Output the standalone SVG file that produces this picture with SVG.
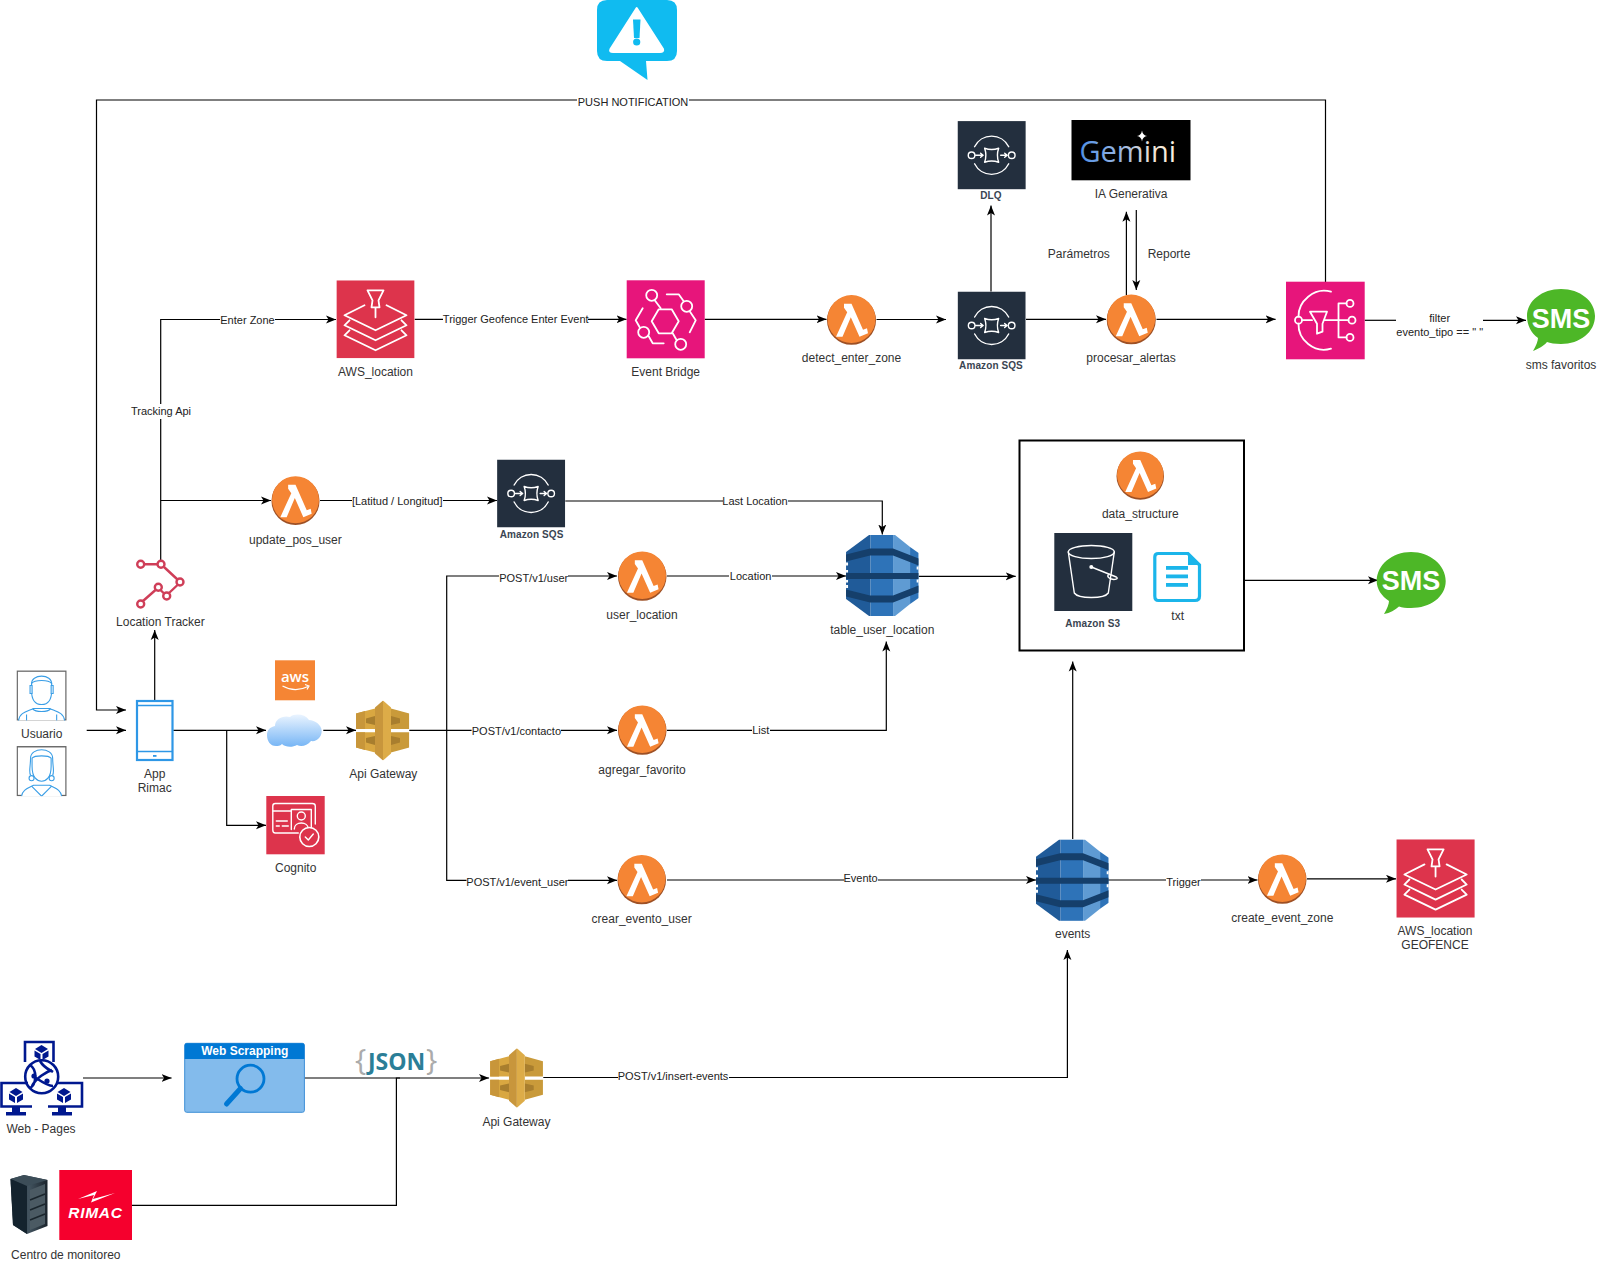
<svg xmlns="http://www.w3.org/2000/svg" width="1597" height="1270" viewBox="0 0 1597 1270">
<style>
text{font-family:"Liberation Sans",Arial,sans-serif}
.t{font-size:12px;fill:#333;text-anchor:middle}
.e{font-size:11px;fill:#222;text-anchor:middle}
.b{font-size:10px;font-weight:bold;fill:#3A4552;text-anchor:middle;letter-spacing:.1px}
.sms{font-size:27px;font-weight:bold;fill:#fff;text-anchor:middle}
.c path{fill:none;stroke:#000;stroke-width:1.2;marker-end:url(#arr)}
.c path.n{marker-end:none}
.c rect{fill:#fff}
.w{fill:none;stroke:#fff;stroke-width:1.8;stroke-linejoin:round;stroke-linecap:round}
.w1{stroke-width:1.4}
.u{fill:#fff;stroke:#3A9EE6;stroke-width:1.1}
.un{fill:none;stroke:#3A9EE6;stroke-width:1.1}
</style>
<defs>
<marker id="arr" viewBox="0 0 10 8" refX="10" refY="4" markerUnits="userSpaceOnUse" markerWidth="10" markerHeight="8.500" orient="auto"><path d="M0,0 L10,4 L0,8 L2.500,4Z" fill="#000"/></marker>
<linearGradient id="cl" x1="0" y1="0" x2="0" y2="1"><stop offset="0" stop-color="#EAF4FF"/><stop offset="1" stop-color="#76B5F5"/></linearGradient>
<linearGradient id="gm" x1="0" y1="0" x2="1" y2="0"><stop offset="0" stop-color="#4F8FE6"/><stop offset=".45" stop-color="#9DB8E2"/><stop offset=".75" stop-color="#F0E2D2"/><stop offset="1" stop-color="#FAF2E2"/></linearGradient>
<linearGradient id="rk" x1="0" y1="0" x2="1" y2="0"><stop offset="0" stop-color="#1C2A35"/><stop offset=".5" stop-color="#42535F"/><stop offset="1" stop-color="#1A232B"/></linearGradient>
<symbol id="lambda" viewBox="0 0 50 50" overflow="visible">
<circle cx="25" cy="25.500" r="24.500" fill="#9D5025"/><circle cx="25" cy="24.300" r="24" fill="#F58534"/>
<path d="M17.500,9 H25 L36.500,35 L40.500,33.500 L41.500,38.500 L33,42 L24.300,22.500 L16,42 H9.500 L20.700,17.500 L17.500,13Z" fill="#fff"/>
</symbol>
<symbol id="sqs" viewBox="0 0 68 68">
<rect width="68" height="68" fill="#232F3E"/>
<path class="w w1" d="M17,25.500 A19,19 0 0 1 51,25.500 M17,42.500 A19,19 0 0 0 51,42.500"/>
<circle class="w w1" cx="14" cy="34" r="3.300"/><circle class="w w1" cx="54" cy="34" r="3.300"/>
<path class="w w1" d="M27,27 Q34,29.500 41,27 Q38.500,34 41,41 Q34,38.500 27,41 Q29.500,34 27,27Z"/>
<path class="w w1" d="M18,34 H25 M23,32 L25.500,34 L23,36 M43,34 H49 M47,32 L49.500,34 L47,36"/>
</symbol>
<symbol id="apigw" viewBox="0 0 53.300 60">
<path d="M0,13 L19,8 V28.500 H0Z" fill="#D9A741"/>
<path d="M53.300,13 L35,8 V28.500 H53.300Z" fill="#C99A3A"/>
<path d="M0,47 L19,52 V31.800 H0Z" fill="#D9A741"/>
<path d="M53.300,47 L35,52 V31.800 H53.300Z" fill="#C99A3A"/>
<path d="M10,18 L19,15.500 V24.500 L10,22.500Z M10,42 L19,44.500 V35.500 L10,37.500Z" fill="#A87E2E"/>
<path d="M44,18 L35,15.500 V24.500 L44,22.500Z M44,42 L35,44.500 V35.500 L44,37.500Z" fill="#A87E2E"/>
<path d="M0,13 L9,10.600 V28.500 H0Z M0,47 L9,49.400 V31.800 H0Z" fill="#C8963A"/>
<path d="M19,7 L27,0 V60 L19,53Z" fill="#C8963C"/>
<path d="M27,0 L35,7 V53 L27,60Z" fill="#DDAC48"/>
</symbol>
<symbol id="dynamo" viewBox="0 0 72.600 81">
<path d="M0,17 L23,0 H24.500 V81 H23 L0,64Z" fill="#205B99"/>
<rect x="24.500" width="22.500" height="81" fill="#2E73B8"/>
<path d="M47,0 H49 L64,12 V69 L49,81 H47Z" fill="#5F9BD3"/>
<path d="M64,12 L72.600,18 V63 L64,69Z" fill="#2E73B8"/>
<path d="M0,19.500 L24,13.500 H47 L72.600,23.500 V30.500 L47,20.500 H24 L0,26.500Z" fill="#153F6B"/>
<rect y="38" width="72.600" height="6" fill="#153F6B"/>
<path d="M0,54.500 L24,60.500 H47 L72.600,50.500 V57.500 L47,67.500 H24 L0,61.500Z" fill="#153F6B"/>
<path d="M0,27.500 H2 V30.500 H0Z M0,35 H2V37.500H0Z M0,45 H2V47.500H0Z M0,50 H2V53H0Z M70.600,31.500 H72.600V34.500H70.600Z M70.600,44.500 H72.600V47.500H70.600Z" fill="#fff"/>
</symbol>
<symbol id="user1" viewBox="0 0 50 50">
<rect x=".7" y=".7" width="48.600" height="48.600" fill="#fff" stroke="#666" stroke-width="1.400"/>
<path class="u" d="M2,50 C3,42 10,41 17,38 H33 C40,41 47,42 48,50"/>
<path class="un" d="M16,38 C19,42 31,42 34,38 M10,50 V44 M40,50 V44"/>
<path class="u" d="M15,20 C15,32 21,34 25,34 C29,34 35,32 35,20 V13 C32,9 18,9 15,13Z"/>
<path class="un" d="M15,14 C14,3 36,3 35,14"/>
<path class="u" d="M13.500,15 H15.500 V23 H13.500Z M34.500,15 H36.500 V23 H34.500Z"/>
</symbol>
<symbol id="user2" viewBox="0 0 50 50">
<rect x=".7" y=".7" width="48.600" height="48.600" fill="#fff" stroke="#666" stroke-width="1.400"/>
<path class="u" d="M5,50 C6,43 12,42 17,39 H33 C38,42 44,43 45,50"/>
<path class="un" d="M15,40 L25,50 L35,40"/>
<path class="u" d="M15.500,20 C15.500,32 21,35 25,35 C29,35 34.500,32 34.500,20 V12 C32,9 18,9 15.500,12Z"/>
<path class="un" d="M14,29 C12,26 14,20 14,12 C14,1 36,1 36,12 C36,20 38,26 36,29"/>
<circle class="u" cx="15" cy="32" r="2.500"/><circle class="u" cx="35" cy="32" r="2.500"/>
</symbol>
<symbol id="loc" viewBox="0 0 78 78">
<rect width="78" height="78" fill="#DD344C"/>
<path class="w" d="M31,10 H47 L42,20 L43,27 H35 L36,20Z M39,27 V37"/>
<path class="w" d="M28,25 L8,35 L39,50 L70,35 L50,25 M13,40 L8,45 L39,60 L70,45 L65,40 M13,50 L8,55 L39,70 L70,55 L65,50"/>
</symbol>
</defs>
<rect width="1597" height="1270" fill="#fff"/>

<g id="connectors" class="c">
<path d="M1325.500,282 V100 H96.500 V710 H126"/>
<rect x="577" y="94" width="112" height="14"/>
<path d="M160.700,561 V319.500 H336"/>
<rect x="220" y="312" width="55" height="14"/>
<rect x="131" y="404" width="60" height="15"/>
<path d="M160.700,500.500 H271"/>
<path d="M154.700,700 V630"/>
<path d="M86.700,730.300 H126"/>
<path d="M173.300,730.300 H266"/>
<path d="M226.700,730.300 V825.300 H266"/>
<path d="M323.300,730.300 H356"/>
<path d="M409.300,730.300 H617"/>
<path d="M446.700,730.300 V576 H617"/>
<path d="M446.700,730.300 V880.300 H617"/>
<rect x="499" y="570" width="69" height="14"/>
<rect x="471.600" y="724" width="89.400" height="14"/>
<rect x="466.500" y="875" width="101.500" height="14"/>
<path d="M320,500.500 H497"/>
<rect x="352" y="494" width="91" height="14"/>
<path d="M565.300,501 H882.300 V534.500"/>
<rect x="723" y="494" width="65" height="14"/>
<path d="M667,576 H846"/>
<rect x="729" y="569" width="43" height="14"/>
<path d="M667,730.300 H886.300 V641.500"/>
<rect x="752" y="724" width="18" height="14"/>
<path d="M918.700,576.300 H1015.700"/>
<path d="M667,880 H1036"/>
<rect x="844" y="871" width="34" height="14"/>
<path d="M1072.700,839 V661.500"/>
<path d="M1108,880 H1257.500"/>
<rect x="1166" y="875" width="35" height="14"/>
<path d="M1307,878.800 H1396"/>
<path d="M414.700,319.300 H626.500"/>
<rect x="443" y="312" width="145" height="14"/>
<path d="M704.700,319.300 H826.500"/>
<path d="M876.500,319.500 H946"/>
<path d="M991,291.500 V205.500"/>
<path d="M1026,319.300 H1106"/>
<path d="M1126.400,295 V211.700"/>
<path d="M1136.300,210 V290"/>
<path d="M1156.500,319.300 H1275.600"/>
<path class="n" d="M1364.700,320.300 H1396"/>
<path d="M1483,320.300 H1526"/>
<path d="M1244,580.300 H1378"/>
<path d="M83,1078 H171.600"/>
<path class="n" d="M304.400,1078 H400"/>
<path d="M132,1205.300 H396.400 V1078 H489"/>
<path d="M543.300,1077.500 H1067.400 V950"/>
<rect x="618" y="1069" width="111" height="14"/>
</g>

<g id="edge-labels">
<text class="e" x="633" y="106">PUSH NOTIFICATION</text>
<text class="e" x="247.500" y="323.500">Enter Zone</text>
<text class="e" x="161" y="415">Tracking Api</text>
<text class="e" x="515.700" y="323">Trigger Geofence Enter Event</text>
<text class="e" x="397.200" y="505">[Latitud / Longitud]</text>
<text class="e" x="755" y="505">Last Location</text>
<text class="e" x="750.600" y="580">Location</text>
<text class="e" x="760.800" y="734">List</text>
<text class="e" x="533.700" y="581.500">POST/v1/user</text>
<text class="e" x="516.400" y="735">POST/v1/contacto</text>
<text class="e" x="517.400" y="886">POST/v1/event_user</text>
<text class="e" x="860.600" y="882">Evento</text>
<text class="e" x="1183.500" y="886">Trigger</text>
<text class="e" x="673" y="1080">POST/v1/insert-events</text>
<text class="e" x="1439.700" y="322">filter</text>
<text class="e" x="1439.700" y="336.300">evento_tipo == " "</text>
<text class="t" x="1078.800" y="258">Parámetros</text>
<text class="t" x="1169" y="258">Reporte</text>
</g>

<g id="alert">
<path d="M607,0 H667 Q677,0 677,10 V51 Q677,61 667,61 H646 L647.500,80 L620,61 H607 Q597,61 597,51 V10 Q597,0 607,0Z" fill="#10BBF0"/>
<path d="M636.700,8 L663,49 Q664,52 660,52 H613 Q609,52 610.500,49Z" fill="#fff" stroke="#fff" stroke-width="2" stroke-linejoin="round"/>
<path d="M633,19.500 H640.500 L639.500,38 H634Z" fill="#10BBF0"/><circle cx="636.700" cy="42" r="3.600" fill="#10BBF0"/>
</g>

<g id="aws-location"><use href="#loc" x="336.300" y="280.300" width="78.400" height="78"/><text class="t" x="375.500" y="376">AWS_location</text></g>

<g id="event-bridge">
<rect x="626.700" y="280.300" width="78" height="78" fill="#E7157B"/>
<g transform="translate(626.700,280.300)">
<path class="w" d="M25,41 L32,29 H45 L52,41 L45,53 H32Z"/>
<circle class="w" cx="25" cy="15" r="5.500"/><circle class="w" cx="60" cy="26" r="5.500"/><circle class="w" cx="17" cy="52" r="5.500"/><circle class="w" cx="54" cy="64" r="5.500"/>
<path class="w" d="M28,20 L34,28 M40,14 H52 L57,21 M63,31 L69,40 L63,52 M16,28 L9,40 L13,47 M22,56 L26,63 H37 M46,53 L50,60"/>
</g>
<text class="t" x="665.700" y="376">Event Bridge</text></g>

<g id="detect-enter-zone"><use href="#lambda" x="826.500" y="294.800" width="50" height="50"/><text class="t" x="851.500" y="361.500">detect_enter_zone</text></g>

<g id="sqs-main"><use href="#sqs" x="957.500" y="291.500" width="68.300" height="68"/><text class="b" x="991" y="369">Amazon SQS</text></g>
<g id="sqs-dlq"><use href="#sqs" x="957.500" y="121" width="68.300" height="68.500"/><text class="b" x="991" y="199">DLQ</text></g>

<g id="gemini">
<rect x="1071.500" y="120" width="119" height="60.300" fill="#000"/>
<text x="1079.500" y="161.500" font-size="29" fill="url(#gm)" style="font-family:'Open Sans','Liberation Sans',sans-serif;font-weight:400">Gemini</text>
<path d="M1142,130.500 Q1142.700,135.300 1147,136 Q1142.700,136.700 1142,141.500 Q1141.300,136.700 1137,136 Q1141.300,135.300 1142,130.500Z" fill="#fff"/>
<text class="t" x="1131" y="198">IA Generativa</text>
</g>

<g id="procesar-alertas"><use href="#lambda" x="1106" y="294.300" width="50.500" height="50"/><text class="t" x="1131" y="362">procesar_alertas</text></g>

<g id="sns">
<rect x="1286" y="281.700" width="78.700" height="77.600" fill="#E7157B"/>
<g transform="translate(1286,281.700)">
<path class="w" d="M45,10 C28,5 12,20 12.500,35 M12.500,42 C12,58 28,72 45,67"/>
<circle class="w" cx="12.500" cy="38.500" r="3.500"/>
<path class="w" d="M24,30 H41 L36.500,42 V50 L31,52 V42Z M16,38.500 H26 M39,38.500 H62.500 M52.500,21.700 V55.700 M52.500,21.700 H60.500 M52.500,55.700 H60.500"/>
<circle class="w" cx="64" cy="21.700" r="3.500"/><circle class="w" cx="66" cy="38.500" r="3.500"/><circle class="w" cx="64" cy="55.700" r="3.500"/>
</g></g>

<g id="sms-favoritos">
<path d="M1561,289 C1580,289 1595,301 1595,316 C1595,332 1580,344 1561,344 C1555,344 1550,343 1547,342 C1544,346 1538,349 1533,351 C1536,346 1538,341 1538,338 C1531,333 1527,325 1527,316 C1527,301 1542,289 1561,289Z" fill="#4DB727"/>
<text class="sms" x="1561" y="328">SMS</text>
<text class="t" x="1561" y="369">sms favoritos</text>
</g>

<g id="update-pos-user"><use href="#lambda" x="271" y="476" width="49" height="49"/><text class="t" x="295.400" y="544">update_pos_user</text></g>
<g id="sqs-pos"><use href="#sqs" x="497" y="459.500" width="68.300" height="68"/><text class="b" x="531.600" y="537.500">Amazon SQS</text></g>

<g id="table-user-location"><use href="#dynamo" x="846" y="535" width="72.700" height="81"/><text class="t" x="882.300" y="634">table_user_location</text></g>

<g id="data-box">
<rect x="1019.500" y="440.500" width="224.500" height="210" fill="#fff" stroke="#000" stroke-width="2"/>
<use href="#lambda" x="1116" y="450.500" width="48.500" height="50"/>
<text class="t" x="1140.300" y="518">data_structure</text>
<rect x="1054.300" y="533" width="78" height="78" fill="#232F3E"/>
<g transform="translate(1054.300,533)">
<ellipse class="w w1" cx="37" cy="19" rx="23" ry="6.500"/>
<path class="w w1" d="M14,19 L20,60 C24,66 50,66 54,60 L60,19"/>
<circle cx="37" cy="34" r="2" fill="#fff"/>
<path class="w w1" d="M37,34 L62,44 C65,46 60,47 57,46 C54,45 52,43 55,41"/>
</g>
<text class="b" x="1092.700" y="626.500">Amazon S3</text>
<path d="M1158.300,553.500 H1188 L1199.500,565 V596 Q1199.500,600.500 1195,600.500 H1158.300 Q1154.800,600.500 1154.800,596 V557 Q1154.800,553.500 1158.300,553.500Z" fill="#fff" stroke="#1BB5EA" stroke-width="3.200"/>
<path d="M1188,553.500 L1199.500,565 H1188Z" fill="#1BB5EA"/>
<rect x="1166" y="566" width="22" height="3.800" fill="#1BB5EA"/><rect x="1166" y="574.500" width="22" height="3.800" fill="#1BB5EA"/><rect x="1166" y="583" width="22" height="3.800" fill="#1BB5EA"/>
<text class="t" x="1177.700" y="619.500">txt</text>
</g>

<g id="sms-alert">
<path d="M1411,552 C1430,552 1445.700,565 1445.700,581 C1445.700,597 1430,608 1411,608 C1406,608 1402,607.500 1399,606.500 C1395,610 1390,613 1384,614 C1387,609 1389,604 1389,601 C1381.500,596 1376.700,589 1376.700,581 C1376.700,565 1392,552 1411,552Z" fill="#4DB727"/>
<text class="sms" x="1411" y="590">SMS</text>
</g>

<g id="user-location"><use href="#lambda" x="617.500" y="551" width="49.500" height="50"/><text class="t" x="642" y="618.500">user_location</text></g>
<g id="agregar-favorito"><use href="#lambda" x="617.500" y="705" width="49.500" height="50"/><text class="t" x="642" y="774">agregar_favorito</text></g>
<g id="crear-evento-user"><use href="#lambda" x="617" y="854.500" width="49.500" height="50"/><text class="t" x="641.600" y="923">crear_evento_user</text></g>

<g id="events"><use href="#dynamo" x="1036" y="839" width="72.700" height="82.500"/><text class="t" x="1072.700" y="938">events</text></g>
<g id="create-event-zone"><use href="#lambda" x="1257.500" y="854" width="49.500" height="50"/><text class="t" x="1282.300" y="922">create_event_zone</text></g>
<g id="aws-location-geofence"><use href="#loc" x="1396.300" y="839.300" width="78.500" height="78.400"/><text class="t" x="1435" y="935">AWS_location</text><text class="t" x="1435" y="949">GEOFENCE</text></g>

<g id="location-tracker">
<path d="M144,564.300 H157.500 M164,567 L177.500,579.500 M177.500,585 L169,593 M164.500,594 L160.500,590 M155.500,590 L143,601" fill="none" stroke="#CF3E58" stroke-width="2.400"/>
<g fill="#fff" stroke="#CF3E58" stroke-width="2.400"><circle cx="140.700" cy="564.300" r="3.500"/><circle cx="161" cy="564.300" r="3.500"/><circle cx="180" cy="582" r="3.500"/><circle cx="166.700" cy="596" r="3.500"/><circle cx="158.300" cy="587.300" r="3.500"/><circle cx="140.700" cy="604" r="3.500"/></g>
<text class="t" x="160.400" y="626">Location Tracker</text>
</g>

<g id="usuario"><use href="#user1" x="16.500" y="670.300" width="50.200" height="50.400"/><use href="#user2" x="16.500" y="746" width="50.200" height="50.300"/><text class="t" x="41.700" y="738">Usuario</text></g>

<g id="app-rimac">
<rect x="137" y="701" width="35.500" height="59" fill="#fff" stroke="#2E97E6" stroke-width="2.200"/>
<path d="M137,705.500 H172.500 M137,751.500 H172.500" stroke="#2E97E6" stroke-width="1.600"/>
<rect x="153" y="755" width="3.500" height="1.800" fill="#2E97E6"/>
<text class="t" x="154.700" y="778.300">App</text><text class="t" x="154.700" y="792">Rimac</text>
</g>

<g id="aws-logo">
<rect x="275" y="660.300" width="40" height="40" fill="#F58534"/>
<text x="295" y="682" font-size="15" fill="#fff" text-anchor="middle" style="font-family:'Open Sans','Liberation Sans',sans-serif;font-weight:600">aws</text>
<path d="M282.500,686 Q295,693 308,686.500 M305,684.500 L309,686 L307,689.500" fill="none" stroke="#fff" stroke-width="1.200"/>
</g>

<g id="cloud">
<path d="M276,746 C270,746 267,741 267,735 C267,730 270,727 275,726 C275,719 283,715 290,717 C295,713 305,714 309,720 C315,720 321.700,725 321.700,731 C321.700,737 317,742 311,741 C307,746 301,747 297,745 C292,748 285,747 282,744 C280,746 278,746 276,746Z" fill="url(#cl)"/>
</g>

<g id="api-gateway"><use href="#apigw" x="356" y="700.500" width="53.300" height="60"/><text class="t" x="383.300" y="778">Api Gateway</text></g>

<g id="cognito">
<rect x="266.300" y="796" width="58.400" height="58.300" fill="#DD344C"/>
<g transform="translate(266.300,796)">
<path class="w w1" d="M49,28 V10 Q49,7.500 46,7.500 H9 Q6.500,7.500 6.500,10 V34 Q6.500,37 9,37 H32"/>
<path class="w w1" d="M6.500,15 H25 M25,33.500 V13.500 H45 V33 M10,25 H21 M10,30 H13 M16,30 H22"/>
<circle class="w w1" cx="35" cy="20" r="4"/>
<path class="w w1" d="M28,33 C28,25 42,25 42,33"/>
<circle cx="43" cy="41" r="9.500" fill="#DD344C" stroke="#fff" stroke-width="1.600"/>
<path class="w w1" d="M39,41 L42,44 L47,38"/>
</g>
<text class="t" x="295.700" y="872">Cognito</text>
</g>

<g id="web-pages">
<g fill="none" stroke="#00188F" stroke-width="2.600">
<path d="M25,1062 V1042 H53.500 V1062"/>
<path d="M28,1083 H1.500 V1106.500 H32 M57,1083 H82 V1106.500 H48"/>
<circle cx="41.700" cy="1076.700" r="16.500"/>
<path d="M30,1065 C38,1070 36,1085 30,1088 M32,1086 C36,1078 46,1072 52,1070 M36,1078 C42,1082 50,1086 53,1086 M40,1061 C44,1068 50,1070 53,1072"/>
</g>
<circle cx="34" cy="1076" r="2.600" fill="#00188F"/><circle cx="47" cy="1081" r="2.600" fill="#00188F"/>
<path d="M12,1107 H20 V1112 H26 V1115.500 H6 V1112 H12Z M58,1107 H66 V1112 H72 V1115.500 H52 V1112 H58Z" fill="#00188F"/>
<path d="M41.500,1045 L48,1049 L41.500,1053 L35,1049Z M34.500,1050.500 L40.500,1054 V1060 L34.500,1056.500Z M48.500,1050.500 L42.500,1054 V1060 L48.500,1056.500Z" fill="#00188F"/>
<path d="M16,1088 L22.500,1092 L16,1096 L9.500,1092Z M9,1093.500 L15,1097 V1103 L9,1099.500Z M23,1093.500 L17,1097 V1103 L23,1099.500Z" fill="#00188F"/>
<path d="M64,1088 L70.500,1092 L64,1096 L57.500,1092Z M57,1093.500 L63,1097 V1103 L57,1099.500Z M71,1093.500 L65,1097 V1103 L71,1099.500Z" fill="#00188F"/>
<text class="t" x="41" y="1133">Web - Pages</text>
</g>

<g id="web-scrapping">
<rect x="184.700" y="1043.300" width="119.700" height="69" rx="2" fill="#83BBEC" stroke="#3E8FD6"/>
<path d="M184.700,1059 V1045.300 Q184.700,1043.300 186.700,1043.300 H302.400 Q304.400,1043.300 304.400,1045.300 V1059Z" fill="#0078D4"/>
<text x="244.800" y="1055" font-size="12" font-weight="bold" fill="#fff" text-anchor="middle">Web Scrapping</text>
<circle cx="250.500" cy="1078.700" r="13.500" fill="none" stroke="#0078D4" stroke-width="2.800"/>
<path d="M240.500,1088.500 L226.500,1104" stroke="#0078D4" stroke-width="5" stroke-linecap="round"/>
</g>

<g id="json">
<text y="1069.500" font-size="23" style="font-family:'Open Sans','Liberation Sans',sans-serif;font-weight:700" fill="#2B7E97"><tspan x="355" font-size="30" fill="#ABABAB" style="font-weight:400">{</tspan><tspan x="368">JSON</tspan><tspan x="426" font-size="30" fill="#ABABAB" style="font-weight:400">}</tspan></text>
</g>

<g id="api-gateway-2"><use href="#apigw" x="489.800" y="1048.300" width="53.500" height="59.400"/><text class="t" x="516.400" y="1126">Api Gateway</text></g>

<g id="centro-monitoreo">
<path d="M10.500,1179 L24,1175 L47.500,1180 V1226 L27,1234 L13,1225Z" fill="url(#rk)"/>
<path d="M10.500,1179 L24,1175 L47.500,1180 L27,1186Z" fill="#3C4D58"/>
<path d="M27,1186 V1234 L13,1225 L10.500,1179Z" fill="#14232E"/>
<path d="M30,1190 L45,1184 V1224 L30,1230Z" fill="#4B5A63"/>
<path d="M30,1200 L45,1194 M30,1210 L45,1204 M30,1220 L45,1214" stroke="#1A252C" stroke-width="1.500"/>
<rect x="59.300" y="1170" width="72.700" height="70" fill="#F5002D"/>
<path d="M78,1199 L97,1191 L93,1199 L115,1193 L91,1202.500 L94,1195Z" fill="#fff"/>
<text x="95.500" y="1218" font-size="15.500" font-weight="bold" font-style="italic" fill="#fff" text-anchor="middle" letter-spacing=".7">RIMAC</text>
<text class="t" x="65.800" y="1259">Centro de monitoreo</text>
</g>
</svg>
